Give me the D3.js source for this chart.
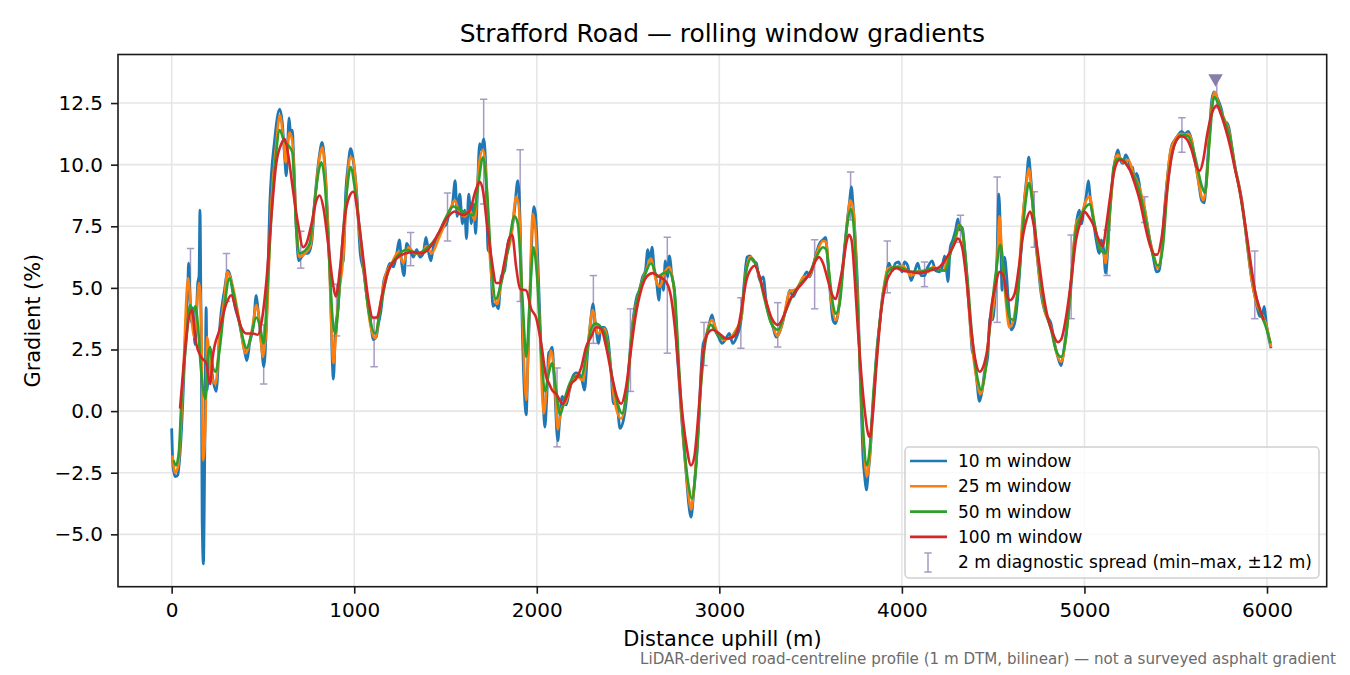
<!DOCTYPE html>
<html>
<head>
<meta charset="utf-8">
<script src="https://cdn.jsdelivr.net/npm/d3@7"></script>
<style>
  body { margin: 0; background: #fff; }
  text { font-family: "DejaVu Sans", sans-serif; }
</style>
</head>
<body>
<script>
var width = 1350,
    height = 675;

// [distance uphill (m), gradient (%)]
var win10 = [[0,-0.7],[8,-2.3],[20,-2.66],[33,-2.6],[45,-1.8],[60,0.2],[75,3.0],[88,5.0],[93,6.0],[100,4.8],[108,3.6],[115,4.2],[128,2.7],[143,5.2],[150,5.5],[155,8.15],[160,4.5],[163,1.7],[167,-4.4],[174,-6.2],[181,-1.85],[189,4.2],[194,0.85],[207,2.6],[222,1.5],[244,0.8],[265,3.55],[289,4.9],[308,5.7],[322,5.45],[344,4.35],[372,3.55],[399,2.45],[412,2.05],[427,2.75],[449,3.55],[463,4.7],[472,4.2],[491,2.75],[505,1.8],[518,3.3],[537,8.3],[564,11.0],[592,12.25],[606,11.7],[619,10.3],[628,9.55],[643,11.9],[652,11.25],[661,11.4],[668,10.3],[683,7.35],[696,6.1],[711,6.25],[729,6.4],[747,6.4],[766,6.8],[784,8.55],[808,10.3],[824,10.9],[839,10.0],[857,7.35],[870,4.9],[881,1.8],[886,1.3],[897,3.3],[912,4.2],[925,5.85],[940,6.1],[954,8.95],[967,10.0],[980,10.65],[996,10.1],[1015,8.7],[1033,6.4],[1051,5.7],[1069,4.65],[1087,3.8],[1105,2.9],[1120,3.0],[1133,3.55],[1151,4.35],[1160,5.2],[1178,5.65],[1196,6.0],[1215,5.85],[1233,6.4],[1247,6.95],[1260,6.0],[1273,5.5],[1287,6.8],[1305,6.55],[1324,6.25],[1342,6.55],[1360,6.25],[1378,6.4],[1393,7.05],[1405,6.55],[1420,6.1],[1433,6.65],[1451,6.95],[1469,7.2],[1487,7.45],[1505,7.6],[1524,8.15],[1538,8.4],[1553,9.35],[1564,7.9],[1578,8.8],[1593,7.6],[1605,8.15],[1615,7.0],[1627,8.8],[1642,7.6],[1655,8.4],[1665,7.2],[1675,8.95],[1687,10.85],[1696,10.6],[1709,11.05],[1720,10.05],[1733,6.55],[1745,6.4],[1760,4.25],[1775,4.35],[1789,4.15],[1805,5.45],[1824,5.7],[1842,6.8],[1860,7.2],[1878,8.15],[1896,9.35],[1909,7.6],[1920,3.55],[1933,0.6],[1942,-0.15],[1951,1.95],[1964,4.9],[1975,7.35],[1984,8.3],[1993,8.0],[2005,6.25],[2018,3.55],[2033,0.85],[2044,-0.65],[2055,0.6],[2065,2.35],[2075,2.45],[2084,2.6],[2097,1.1],[2115,-1.2],[2124,-0.5],[2139,0.6],[2161,0.25],[2179,0.85],[2197,1.4],[2215,1.55],[2243,1.4],[2261,0.85],[2279,2.45],[2297,3.8],[2307,4.35],[2321,3.55],[2339,2.75],[2352,3.4],[2370,3.4],[2389,3.0],[2407,1.55],[2420,0.3],[2438,0.3],[2456,-0.7],[2475,-0.35],[2493,0.6],[2511,2.45],[2529,3.8],[2548,4.65],[2562,4.9],[2580,5.45],[2595,5.7],[2608,6.55],[2620,6.1],[2631,6.65],[2644,5.7],[2657,5.2],[2668,4.5],[2681,5.45],[2694,4.9],[2704,6.1],[2717,5.45],[2726,6.3],[2741,5.45],[2754,4.9],[2766,2.75],[2777,1.55],[2790,0.05],[2803,-1.2],[2818,-2.5],[2832,-3.75],[2845,-4.3],[2858,-3.45],[2872,-2.25],[2887,-0.5],[2900,1.65],[2912,2.75],[2927,3.0],[2945,3.55],[2960,3.9],[2978,3.3],[2996,3.0],[3015,2.75],[3033,2.9],[3055,3.15],[3073,2.75],[3094,3.0],[3121,3.8],[3139,5.45],[3152,6.25],[3167,6.3],[3185,6.1],[3203,6.0],[3221,5.3],[3240,5.45],[3258,4.35],[3276,3.8],[3294,3.4],[3312,3.0],[3327,3.15],[3345,3.55],[3367,4.25],[3385,4.9],[3404,4.65],[3422,4.9],[3444,5.2],[3462,5.45],[3480,5.65],[3495,5.45],[3513,5.85],[3531,6.4],[3549,6.8],[3568,6.95],[3582,7.05],[3595,6.0],[3608,4.75],[3622,3.7],[3637,3.55],[3650,3.95],[3668,5.2],[3686,6.65],[3699,7.6],[3714,8.55],[3723,9.1],[3732,8.4],[3747,6.65],[3759,4.65],[3768,2.2],[3778,0.05],[3787,-1.85],[3796,-2.65],[3805,-3.2],[3816,-2.5],[3827,-1.6],[3838,-0.25],[3851,1.1],[3860,2.2],[3878,3.55],[3896,4.75],[3914,5.45],[3929,6.0],[3947,5.7],[3965,6.0],[3983,6.05],[4001,5.65],[4014,6.05],[4032,5.9],[4050,5.3],[4069,5.65],[4087,6.0],[4105,5.5],[4124,5.5],[4142,5.85],[4166,6.1],[4184,5.7],[4206,5.65],[4221,5.85],[4234,6.3],[4243,5.85],[4252,5.25],[4265,6.65],[4279,6.95],[4294,7.35],[4307,7.8],[4316,7.35],[4330,7.45],[4343,6.65],[4356,5.45],[4374,3.55],[4385,2.45],[4397,2.2],[4410,1.25],[4425,0.4],[4440,0.85],[4452,1.55],[4470,2.2],[4483,3.8],[4497,3.7],[4512,4.9],[4521,6.25],[4531,8.8],[4540,7.2],[4549,4.9],[4562,6.25],[4574,5.45],[4585,4.25],[4599,3.3],[4617,3.55],[4635,4.65],[4653,6.55],[4671,8.55],[4684,9.5],[4695,10.3],[4704,9.65],[4714,8.7],[4726,7.45],[4745,6.0],[4763,4.75],[4781,4.1],[4799,3.8],[4817,3.55],[4836,2.75],[4854,2.2],[4872,1.85],[4885,2.35],[4899,3.15],[4918,4.35],[4932,5.6],[4945,6.95],[4958,7.75],[4972,8.15],[4985,7.6],[4996,8.15],[5009,8.7],[5022,9.35],[5031,8.7],[5046,7.9],[5064,6.95],[5082,6.4],[5092,6.95],[5105,6.55],[5116,5.6],[5128,6.55],[5141,8.3],[5156,9.5],[5171,10.3],[5183,10.6],[5196,10.2],[5211,10.05],[5226,10.4],[5240,10.2],[5253,9.8],[5264,9.9],[5273,9.4],[5286,9.65],[5300,9.25],[5312,8.55],[5327,8.3],[5340,7.75],[5358,6.95],[5376,6.3],[5394,5.65],[5409,5.7],[5422,6.4],[5440,8.3],[5459,9.8],[5477,10.75],[5495,11.0],[5513,11.2],[5532,11.35],[5550,11.25],[5568,11.35],[5587,11.0],[5605,10.2],[5623,9.4],[5642,8.55],[5655,8.45],[5669,9.5],[5684,11.25],[5697,12.6],[5710,12.95],[5725,12.75],[5739,12.5],[5752,12.2],[5765,11.75],[5780,11.7],[5794,11.4],[5807,10.75],[5825,9.9],[5844,9.25],[5862,8.55],[5880,7.5],[5899,6.3],[5917,5.3],[5930,4.8],[5945,4.25],[5960,3.85],[5972,3.85],[5985,4.25],[5996,3.55],[6009,3.0],[6022,2.55]];

var win25 = [[5,-1.8],[18,-2.5],[35,-2.25],[60,0.85],[90,5.4],[108,3.8],[125,3.0],[150,5.2],[163,3.55],[172,-2.0],[185,-0.5],[195,3.0],[205,2.35],[220,1.4],[240,1.1],[265,3.3],[290,4.65],[305,5.65],[330,5.2],[370,3.7],[405,2.35],[440,3.3],[465,4.3],[480,3.7],[500,2.2],[520,3.55],[545,8.3],[570,10.6],[593,12.0],[612,11.0],[625,10.1],[645,11.3],[660,11.0],[685,7.35],[700,6.25],[730,6.4],[760,6.7],[785,8.55],[810,10.3],[825,10.7],[840,9.75],[860,6.8],[878,2.9],[886,1.95],[898,2.9],[915,4.65],[940,6.25],[960,9.1],[978,10.3],[995,10.2],[1024,7.6],[1060,5.2],[1087,3.55],[1115,2.95],[1142,4.25],[1169,5.45],[1205,6.0],[1242,6.45],[1269,6.0],[1296,6.65],[1333,6.4],[1369,6.4],[1396,6.7],[1424,6.4],[1460,6.95],[1496,7.6],[1524,8.15],[1551,8.55],[1578,8.0],[1605,7.9],[1633,8.15],[1660,7.75],[1684,10.05],[1705,10.6],[1724,9.35],[1742,6.4],[1764,4.75],[1782,4.35],[1805,5.2],[1833,6.25],[1860,7.05],[1887,8.7],[1902,8.3],[1920,4.25],[1942,0.45],[1960,4.35],[1978,8.0],[1993,7.35],[2015,3.55],[2038,-0.1],[2060,1.5],[2078,2.45],[2097,1.4],[2115,-0.75],[2133,0.05],[2161,0.4],[2188,1.1],[2215,1.45],[2252,1.25],[2279,2.6],[2307,4.1],[2334,3.15],[2370,3.35],[2398,2.2],[2425,0.45],[2462,-0.3],[2493,0.85],[2526,3.55],[2562,4.9],[2599,5.7],[2626,6.2],[2653,5.3],[2675,5.05],[2699,5.6],[2726,5.85],[2754,4.75],[2781,1.25],[2808,-1.6],[2832,-3.45],[2845,-4.0],[2863,-2.95],[2887,-0.25],[2912,2.35],[2936,3.3],[2960,3.7],[2991,3.15],[3027,2.9],[3064,3.0],[3091,3.3],[3121,3.8],[3145,5.6],[3167,6.25],[3190,6.1],[3221,5.4],[3258,4.4],[3294,3.45],[3318,3.05],[3345,3.55],[3385,4.85],[3422,4.95],[3462,5.45],[3495,5.5],[3531,6.35],[3568,6.9],[3586,6.85],[3608,4.8],[3640,3.7],[3668,5.1],[3699,7.5],[3717,8.55],[3735,8.1],[3754,5.2],[3772,1.5],[3790,-1.3],[3808,-2.65],[3823,-1.9],[3845,0.6],[3869,2.8],[3896,4.75],[3923,5.8],[3960,5.85],[4005,5.9],[4050,5.5],[4096,5.7],[4142,5.65],[4170,5.85],[4224,5.7],[4261,6.4],[4297,7.05],[4312,7.55],[4330,7.35],[4352,5.7],[4380,3.0],[4407,1.4],[4431,0.7],[4452,1.4],[4480,3.3],[4507,4.65],[4525,6.55],[4534,7.9],[4547,6.55],[4567,4.65],[4589,3.4],[4611,3.7],[4635,5.05],[4662,7.9],[4684,9.35],[4695,9.85],[4714,8.55],[4745,6.0],[4781,4.1],[4817,3.4],[4848,2.35],[4872,2.0],[4899,3.0],[4927,5.3],[4954,7.6],[4982,7.95],[5009,8.55],[5028,8.7],[5055,7.6],[5082,6.65],[5105,6.4],[5116,6.0],[5141,8.2],[5171,10.3],[5183,10.4],[5211,10.1],[5240,10.2],[5270,9.6],[5300,9.1],[5330,8.2],[5358,6.95],[5385,6.2],[5400,5.8],[5420,6.3],[5440,8.2],[5470,10.5],[5495,11.0],[5532,11.25],[5550,11.2],[5568,11.25],[5590,10.9],[5605,10.2],[5630,9.1],[5650,8.55],[5669,9.3],[5684,11.0],[5697,12.35],[5713,12.95],[5730,12.6],[5752,12.1],[5775,11.7],[5794,11.3],[5807,10.75],[5825,9.9],[5844,9.25],[5862,8.5],[5880,7.5],[5899,6.3],[5917,5.3],[5945,4.3],[5972,3.9],[5996,3.5],[6022,2.6]];

var win50 = [[10,-2.0],[24,-2.2],[40,-1.6],[51,0.05],[79,2.75],[101,4.3],[115,3.95],[130,4.25],[143,3.55],[161,1.65],[185,0.5],[198,2.2],[211,2.6],[225,1.8],[240,1.6],[262,2.45],[289,4.25],[317,5.4],[335,4.9],[372,3.55],[412,2.55],[436,3.1],[463,3.8],[482,3.5],[504,2.75],[522,4.65],[546,7.9],[570,10.3],[592,11.4],[614,11.0],[637,10.8],[661,10.5],[683,7.35],[701,6.4],[729,6.5],[756,6.8],[784,8.55],[808,9.85],[820,10.1],[839,9.25],[862,6.25],[884,3.55],[897,3.15],[912,4.2],[936,6.95],[958,8.8],[980,9.9],[1005,8.95],[1042,6.55],[1078,4.1],[1115,3.15],[1142,4.1],[1178,5.45],[1233,6.25],[1287,6.55],[1342,6.4],[1396,6.6],[1451,7.05],[1505,7.9],[1542,8.3],[1596,8.1],[1651,7.95],[1678,9.1],[1705,10.3],[1727,8.95],[1751,6.0],[1775,4.55],[1805,5.2],[1842,6.55],[1878,7.9],[1896,7.6],[1924,4.25],[1942,2.2],[1964,4.9],[1982,6.65],[2000,5.6],[2024,2.45],[2047,0.8],[2066,1.55],[2084,1.95],[2106,0.85],[2128,-0.15],[2151,0.45],[2179,1.1],[2206,1.4],[2243,1.4],[2270,2.2],[2297,3.3],[2321,3.55],[2352,3.4],[2380,3.0],[2412,1.4],[2443,0.3],[2467,-0.1],[2493,0.85],[2522,3.15],[2553,4.65],[2589,5.45],[2626,6.0],[2662,5.45],[2694,5.6],[2726,5.65],[2754,4.9],[2781,1.55],[2808,-1.45],[2832,-3.05],[2850,-3.55],[2872,-2.25],[2900,1.1],[2923,2.75],[2954,3.5],[2982,3.2],[3018,2.95],[3055,2.95],[3112,3.55],[3148,5.7],[3176,6.2],[3212,5.65],[3249,4.5],[3285,3.55],[3321,3.3],[3358,3.95],[3404,4.75],[3449,5.2],[3495,5.6],[3531,6.25],[3568,6.65],[3586,6.55],[3604,5.45],[3622,4.35],[3637,3.95],[3659,4.35],[3686,6.55],[3704,7.75],[3721,8.2],[3735,7.6],[3754,4.9],[3772,1.55],[3790,-1.05],[3808,-2.2],[3823,-1.6],[3845,0.85],[3869,2.9],[3896,4.65],[3923,5.65],[3960,5.85],[4005,5.8],[4050,5.65],[4096,5.65],[4170,5.8],[4234,5.7],[4270,6.5],[4297,7.2],[4319,7.55],[4337,7.05],[4361,5.2],[4388,2.75],[4416,1.25],[4434,0.85],[4458,1.65],[4483,3.55],[4512,5.45],[4540,6.75],[4562,5.3],[4589,3.8],[4611,3.7],[4635,4.9],[4662,7.35],[4681,8.7],[4695,9.25],[4714,8.55],[4745,6.25],[4781,4.25],[4817,3.3],[4845,2.45],[4872,2.2],[4899,3.0],[4927,5.3],[4954,7.35],[4982,7.95],[5009,8.3],[5028,8.4],[5055,7.6],[5082,6.65],[5116,6.4],[5141,8.3],[5160,9.9],[5183,10.25],[5211,10.2],[5240,9.9],[5273,9.5],[5300,8.95],[5340,7.6],[5376,6.3],[5404,5.9],[5430,6.7],[5459,9.4],[5495,10.85],[5532,11.2],[5568,11.15],[5605,10.35],[5642,9.15],[5660,8.85],[5684,10.85],[5710,12.75],[5739,12.35],[5765,11.8],[5794,11.2],[5825,9.9],[5853,8.8],[5880,7.5],[5908,6.0],[5936,4.8],[5963,4.0],[5990,3.5],[6020,2.75]];

var win100 = [[46,0.1],[110,4.1],[134,2.75],[161,2.2],[189,1.95],[211,1.1],[225,2.2],[262,3.3],[299,4.35],[326,4.7],[353,4.1],[381,3.4],[408,3.15],[445,3.15],[472,3.1],[491,3.55],[518,5.2],[546,7.9],[573,10.05],[601,10.85],[619,11.05],[637,10.45],[665,8.95],[692,7.6],[720,6.65],[738,6.8],[766,7.6],[793,8.55],[811,8.75],[830,8.3],[857,6.8],[881,5.3],[899,4.65],[921,5.7],[949,7.9],[973,8.7],[995,8.9],[1024,7.75],[1051,6.1],[1078,4.5],[1102,3.8],[1124,3.8],[1151,4.65],[1187,5.7],[1233,6.2],[1278,6.4],[1324,6.45],[1369,6.4],[1415,6.65],[1460,7.2],[1505,7.8],[1551,8.1],[1596,7.95],[1633,8.15],[1665,8.95],[1687,9.3],[1705,8.95],[1727,7.6],[1751,6.25],[1778,5.2],[1796,5.2],[1824,6.1],[1851,7.05],[1865,7.15],[1887,5.85],[1909,4.95],[1942,4.9],[1969,4.15],[1996,3.8],[2024,2.75],[2051,1.4],[2069,1.1],[2084,0.85],[2106,0.7],[2142,0.3],[2170,0.7],[2188,1.1],[2215,1.3],[2243,1.75],[2270,2.6],[2297,3.0],[2325,3.4],[2352,3.35],[2380,2.6],[2412,1.4],[2438,0.6],[2462,0.3],[2486,0.85],[2511,2.2],[2540,3.8],[2571,4.9],[2602,5.45],[2635,5.6],[2672,5.45],[2708,5.25],[2735,4.65],[2763,2.9],[2790,0.45],[2818,-1.3],[2845,-2.2],[2863,-1.85],[2887,0.05],[2909,2.2],[2936,3.15],[2964,3.3],[3000,3.15],[3037,2.95],[3073,3.0],[3094,3.15],[3121,4.1],[3148,5.3],[3176,5.8],[3194,5.9],[3221,5.45],[3249,4.65],[3285,3.8],[3321,3.5],[3349,3.8],[3385,4.5],[3422,4.9],[3467,5.3],[3504,5.7],[3527,6.1],[3546,6.25],[3568,6.0],[3595,5.3],[3619,4.7],[3637,4.55],[3659,5.2],[3681,6.1],[3695,6.8],[3710,7.15],[3724,6.95],[3741,5.45],[3759,3.3],[3777,1.55],[3796,0.05],[3814,-0.9],[3823,-1.05],[3838,-0.35],[3860,1.8],[3887,4.1],[3914,5.2],[3942,5.65],[3969,5.8],[4005,5.7],[4050,5.65],[4096,5.6],[4152,5.7],[4206,5.85],[4243,6.2],[4279,6.65],[4307,7.0],[4330,6.65],[4352,5.45],[4380,3.3],[4403,2.05],[4425,1.6],[4452,1.95],[4470,2.6],[4488,4.1],[4512,5.05],[4534,5.65],[4556,5.5],[4574,4.75],[4593,4.5],[4617,4.75],[4641,5.85],[4662,7.05],[4684,7.8],[4703,8.1],[4721,7.6],[4745,6.4],[4772,4.9],[4799,3.8],[4827,3.15],[4854,2.8],[4872,2.9],[4899,3.8],[4927,5.3],[4954,6.95],[4982,7.75],[5000,8.1],[5018,7.95],[5046,7.6],[5073,7.05],[5100,6.7],[5119,7.5],[5138,8.55],[5165,9.8],[5193,10.2],[5220,10.1],[5248,9.8],[5275,9.25],[5303,8.55],[5330,7.6],[5358,6.75],[5385,6.35],[5398,6.35],[5422,7.0],[5450,8.8],[5477,10.3],[5505,11.0],[5532,11.15],[5559,11.05],[5587,10.6],[5614,9.9],[5633,9.75],[5651,10.2],[5673,11.25],[5697,12.05],[5725,12.4],[5747,12.05],[5771,11.5],[5798,10.75],[5825,9.8],[5853,8.85],[5880,7.6],[5908,6.15],[5936,4.8],[5963,4.1],[5982,3.7]];

// 2 m diagnostic spread (min-max within +-12 m)
var diagDist = [103,300,504,707,903,1109,1309,1511,1709,1909,2111,2310,2513,2715,2916,3118,3320,3522,3719,3920,4124,4321,4522,4725,4927,5124,5330,5534,5725,5933];
var diagMin = [4.0,4.45,1.1,5.8,3.05,1.8,5.9,6.9,8.4,4.45,-1.45,2.75,0.8,2.35,1.85,2.55,2.6,4.15,7.75,4.8,5.05,6.85,3.6,6.65,3.75,5.5,7.65,10.5,12.3,3.75];
var diagMax = [6.6,6.4,3.5,7.3,5.15,3.75,7.25,8.85,12.65,10.6,1.75,5.5,4.15,7.05,3.6,4.6,4.4,6.95,9.7,6.9,6.05,7.95,9.5,8.9,7.15,7.35,8.7,11.9,13.55,6.5];

var peakDist = 5718, peakGrad = 13.5;

var xTicks = [0, 1000, 2000, 3000, 4000, 5000, 6000];
var yTicks = [-5, -2.5, 0, 2.5, 5, 7.5, 10, 12.5];
var seriesNames = ["10 m window", "25 m window", "50 m window", "100 m window"];
var seriesColors = ["#1f77b4", "#ff7f0e", "#2ca02c", "#d62728"];
var seriesData = [win10, win25, win50, win100];

var pL = 118, pR = 1326.7, pT = 54.5, pB = 586.7;
var diagColor = "#a79bc3";

var x = d3.scaleLinear().domain([-294, 6327]).range([pL, pR]);
var y = d3.scaleLinear().domain([-7.125, 14.47]).range([pB, pT]);

var svg = d3.select("body").append("svg")
    .attr("width", width)
    .attr("height", height)
    .style("background", "#fff");

svg.append("clipPath").attr("id", "plot")
  .append("rect")
    .attr("x", pL).attr("y", pT)
    .attr("width", pR - pL).attr("height", pB - pT);

// grid
svg.append("g").selectAll("line")
    .data(xTicks)
    .enter().append("line")
    .attr("x1", function(d) { return x(d); })
    .attr("x2", function(d) { return x(d); })
    .attr("y1", pT).attr("y2", pB)
    .attr("stroke", "#e6e6e6").attr("stroke-width", 1.6);

svg.append("g").selectAll("line")
    .data(yTicks)
    .enter().append("line")
    .attr("y1", function(d) { return y(d); })
    .attr("y2", function(d) { return y(d); })
    .attr("x1", pL).attr("x2", pR)
    .attr("stroke", "#e6e6e6").attr("stroke-width", 1.6);

var plot = svg.append("g").attr("clip-path", "url(#plot)");

// error bars
var bars = plot.append("g").selectAll("g")
    .data(diagDist)
    .enter().append("g")
    .attr("stroke", diagColor)
    .attr("stroke-width", 1.5);

bars.append("line")
    .attr("x1", function(d) { return x(d); })
    .attr("x2", function(d) { return x(d); })
    .attr("y1", function(d, i) { return y(diagMin[i]); })
    .attr("y2", function(d, i) { return y(diagMax[i]); });

bars.append("line")
    .attr("x1", function(d) { return x(d) - 3.7; })
    .attr("x2", function(d) { return x(d) + 3.7; })
    .attr("y1", function(d, i) { return y(diagMin[i]); })
    .attr("y2", function(d, i) { return y(diagMin[i]); });

bars.append("line")
    .attr("x1", function(d) { return x(d) - 3.7; })
    .attr("x2", function(d) { return x(d) + 3.7; })
    .attr("y1", function(d, i) { return y(diagMax[i]); })
    .attr("y2", function(d, i) { return y(diagMax[i]); });

// gradient lines
var line = d3.line()
    .x(function(d) { return x(d[0]); })
    .y(function(d) { return y(d[1]); })
    .curve(d3.curveMonotoneX);

plot.append("g").selectAll("path")
    .data(seriesData)
    .enter().append("path")
    .attr("fill", "none")
    .attr("stroke", function(d, i) { return seriesColors[i]; })
    .attr("stroke-width", function(d, i) { return i == 0 ? 2.8 : 2.6; })
    .attr("stroke-linejoin", "round")
    .attr("d", line);

// steepest point marker
svg.append("path")
    .attr("d", d3.symbol().type(d3.symbolTriangle).size(90))
    .attr("transform", "translate(" + [x(peakDist), y(peakGrad)] + ") rotate(180)")
    .attr("fill", "#8a7cab");

// frame
svg.append("rect")
    .attr("x", pL).attr("y", pT)
    .attr("width", pR - pL).attr("height", pB - pT)
    .attr("fill", "none")
    .attr("stroke", "#1a1a1a")
    .attr("stroke-width", 1.6);

// axes
var xAxis = svg.append("g")
    .attr("transform", "translate(0," + pB + ")")
    .call(d3.axisBottom(x).tickValues(xTicks).tickFormat(d3.format("d")).tickSize(7).tickPadding(9));

var yAxis = svg.append("g")
    .attr("transform", "translate(" + pL + ",0)")
    .call(d3.axisLeft(y).tickValues(yTicks).tickFormat(d3.format(".1f")).tickSize(7).tickPadding(8));

[xAxis, yAxis].forEach(function(a) {
    a.select(".domain").remove();
    a.selectAll("line").attr("stroke", "#1a1a1a").attr("stroke-width", 1.6);
    a.selectAll("text")
        .attr("fill", "#000")
        .style("font-family", "DejaVu Sans")
        .style("font-size", "20px");
});

// titles
svg.append("text")
    .attr("x", (pL + pR) / 2).attr("y", 42)
    .attr("text-anchor", "middle")
    .style("font-size", "24.9px")
    .text("Strafford Road \u2014 rolling window gradients");

svg.append("text")
    .attr("x", (pL + pR) / 2).attr("y", 646)
    .attr("text-anchor", "middle")
    .style("font-size", "20.9px")
    .text("Distance uphill (m)");

svg.append("text")
    .attr("transform", "translate(" + [40, (pT + pB) / 2] + ") rotate(-90)")
    .attr("text-anchor", "middle")
    .style("font-size", "20.9px")
    .text("Gradient (%)");

svg.append("text")
    .attr("x", 1336).attr("y", 664)
    .attr("text-anchor", "end")
    .attr("fill", "#6b6b6b")
    .style("font-size", "15.1px")
    .text("LiDAR-derived road-centreline profile (1 m DTM, bilinear) \u2014 not a surveyed asphalt gradient");

// legend
var legend = svg.append("g");

legend.append("rect")
    .attr("x", 905).attr("y", 447)
    .attr("width", 414).attr("height", 131)
    .attr("rx", 4)
    .attr("fill", "#fff").attr("fill-opacity", 0.8)
    .attr("stroke", "#d0d0d0").attr("stroke-width", 1.5);

var rows = legend.selectAll("g.row")
    .data(seriesNames)
    .enter().append("g")
    .attr("class", "row")
    .attr("transform", function(d, i) { return "translate(0," + (461 + i * 25.3) + ")"; });

rows.append("line")
    .attr("x1", 910).attr("x2", 947)
    .attr("stroke", function(d, i) { return seriesColors[i]; })
    .attr("stroke-width", 2.6);

rows.append("text")
    .attr("x", 958).attr("y", 6)
    .style("font-size", "17px")
    .text(function(d) { return d; });

var eb = legend.append("g")
    .attr("stroke", diagColor)
    .attr("stroke-width", 1.5);
eb.append("line").attr("x1", 928).attr("x2", 928).attr("y1", 553).attr("y2", 572);
eb.append("line").attr("x1", 924.3).attr("x2", 931.7).attr("y1", 553).attr("y2", 553);
eb.append("line").attr("x1", 924.3).attr("x2", 931.7).attr("y1", 572).attr("y2", 572);

legend.append("text")
    .attr("x", 958).attr("y", 461 + 4 * 25.3 + 6)
    .style("font-size", "17px")
    .text("2 m diagnostic spread (min\u2013max, \u00b112 m)");
</script>
</body>
</html>
